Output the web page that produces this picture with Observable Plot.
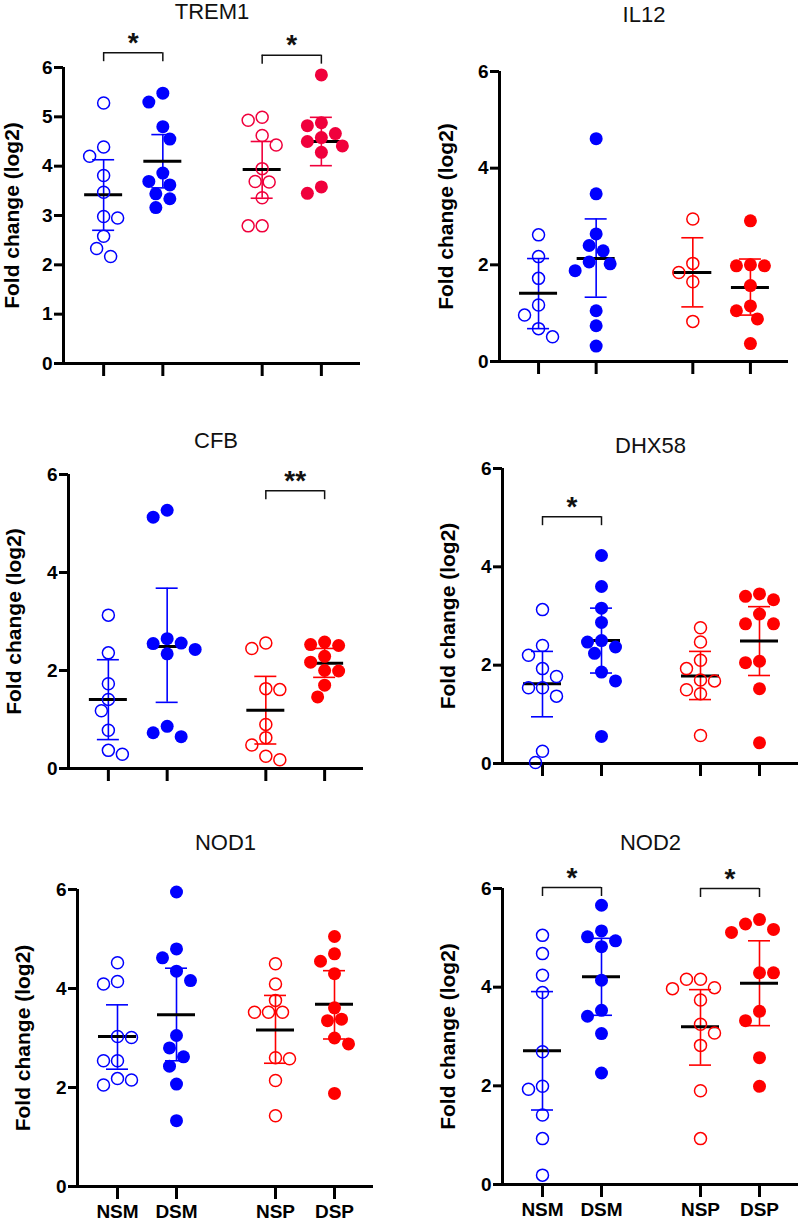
<!DOCTYPE html>
<html><head><meta charset="utf-8">
<script src="https://cdn.jsdelivr.net/npm/d3@7"></script>
<script src="https://cdn.jsdelivr.net/npm/@observablehq/plot@0.6"></script>
<style>
body{margin:0;background:#fff;}
#root{position:relative;width:800px;height:1221px;overflow:hidden;background:#fff;}
</style></head><body><div id="root"></div>
<script>
// ---------------- data ----------------
const groups = ["NSM", "DSM", "NSP", "DSP"];
const genes = ["TREM1", "IL12", "CFB", "DHX58", "NOD1", "NOD2"];
const yLabel = "Fold change (log2)";
const yTicksTREM1 = [0, 1, 2, 3, 4, 5, 6];
const yTicksDefault = [0, 2, 4, 6];

const TREM1_NSM = [5.28, 4.39, 4.20, 3.81, 3.47, 2.98, 2.95, 2.58, 2.33, 2.17];
const TREM1_DSM = [5.48, 5.30, 4.80, 4.55, 3.86, 3.69, 3.62, 3.44, 3.34, 3.16];
const TREM1_NSP = [4.99, 4.93, 4.62, 4.43, 3.95, 3.69, 3.68, 3.36, 2.79, 2.79];
const TREM1_DSP = [5.85, 4.88, 4.82, 4.66, 4.58, 4.50, 4.41, 4.28, 3.58, 3.45];
const TREM1_mean = [3.42, 4.10, 3.93, 4.50];
const TREM1_hi = [4.13, 4.64, 4.50, 4.99];
const TREM1_lo = [2.70, 3.56, 3.35, 4.01];

const IL12_NSM = [2.62, 2.17, 1.72, 1.17, 0.96, 0.68, 0.51];
const IL12_DSM = [4.61, 3.47, 2.64, 2.40, 2.29, 2.06, 2.02, 1.88, 1.05, 0.74, 0.32];
const IL12_NSP = [2.95, 2.03, 1.84, 1.65, 0.83];
const IL12_DSP = [2.91, 2.00, 1.98, 1.98, 1.57, 1.15, 1.05, 0.88, 0.37];
const IL12_mean = [1.41, 2.13, 1.84, 1.53];
const IL12_hi = [2.13, 2.95, 2.56, 2.12];
const IL12_lo = [0.68, 1.33, 1.13, 0.96];

const CFB_NSM = [3.13, 2.36, 1.73, 1.41, 1.18, 0.78, 0.37, 0.29];
const CFB_DSM = [5.27, 5.13, 2.65, 2.56, 2.55, 2.43, 2.34, 0.86, 0.73, 0.65];
const CFB_NSP = [2.56, 2.45, 1.63, 1.61, 0.90, 0.63, 0.48, 0.25, 0.18];
const CFB_DSP = [2.58, 2.53, 2.51, 2.29, 2.17, 2.00, 1.99, 1.70, 1.46];
const CFB_mean = [1.41, 2.49, 1.19, 2.15];
const CFB_hi = [2.22, 3.68, 1.88, 2.45];
const CFB_lo = [0.59, 1.35, 0.50, 1.86];

const DHX58_NSM = [3.13, 2.40, 2.20, 1.93, 1.77, 1.54, 1.54, 1.37, 0.25, 0.02];
const DHX58_DSM = [4.23, 3.60, 3.16, 2.87, 2.50, 2.47, 2.37, 2.24, 1.86, 1.68, 0.55];
const DHX58_NSP = [2.76, 2.47, 2.10, 1.93, 1.70, 1.68, 1.50, 1.42, 0.57];
const DHX58_DSP = [3.45, 3.40, 3.33, 3.04, 2.84, 2.84, 2.08, 2.05, 1.52, 0.42];
const DHX58_mean = [1.62, 2.50, 1.78, 2.49];
const DHX58_hi = [2.28, 3.16, 2.28, 3.19];
const DHX58_lo = [0.95, 1.84, 1.30, 1.79];

const NOD1_NSM = [4.52, 4.14, 4.09, 3.03, 3.01, 2.54, 2.54, 2.18, 2.15, 2.05];
const NOD1_DSM = [5.95, 4.80, 4.62, 4.35, 4.16, 3.05, 2.80, 2.62, 2.43, 2.07, 1.33];
const NOD1_NSP = [4.50, 4.09, 3.76, 3.52, 3.52, 3.52, 2.60, 2.58, 2.14, 1.43];
const NOD1_DSP = [5.05, 4.70, 4.55, 4.30, 3.61, 3.38, 3.35, 3.00, 2.88, 1.88];
const NOD1_mean = [3.03, 3.47, 3.16, 3.68];
const NOD1_hi = [3.67, 4.41, 3.86, 4.36];
const NOD1_lo = [2.37, 2.54, 2.49, 2.98];

const NOD2_NSM = [5.05, 4.68, 4.24, 3.89, 2.69, 1.99, 1.93, 1.41, 0.93, 0.19];
const NOD2_DSM = [5.66, 5.14, 5.02, 4.94, 4.82, 4.14, 3.53, 3.41, 3.06, 2.26];
const NOD2_NSP = [4.16, 4.16, 3.99, 3.97, 3.74, 3.25, 3.07, 2.82, 1.90, 0.93];
const NOD2_DSP = [5.37, 5.28, 5.17, 5.11, 4.29, 4.29, 3.51, 3.32, 2.57, 1.99];
const NOD2_mean = [2.71, 4.21, 3.20, 4.08];
const NOD2_hi = [3.91, 4.99, 3.95, 4.94];
const NOD2_lo = [1.51, 3.43, 2.42, 3.22];

// significance brackets
const bracketGene = ["TREM1", "TREM1", "CFB", "DHX58", "NOD2", "NOD2"];
const bracketFrom = ["NSM", "NSP", "NSP", "NSM", "NSM", "NSP"];
const bracketTo = ["DSM", "DSP", "DSP", "DSM", "DSM", "DSP"];
const bracketLevel = [6.30, 6.25, 5.67, 5.02, 6.02, 6.00];
const bracketLabel = ["*", "*", "**", "*", "*", "*"];

// ---------------- tables built from the arrays ----------------
const series = {
  TREM1: [TREM1_NSM, TREM1_DSM, TREM1_NSP, TREM1_DSP],
  IL12: [IL12_NSM, IL12_DSM, IL12_NSP, IL12_DSP],
  CFB: [CFB_NSM, CFB_DSM, CFB_NSP, CFB_DSP],
  DHX58: [DHX58_NSM, DHX58_DSM, DHX58_NSP, DHX58_DSP],
  NOD1: [NOD1_NSM, NOD1_DSM, NOD1_NSP, NOD1_DSP],
  NOD2: [NOD2_NSM, NOD2_DSM, NOD2_NSP, NOD2_DSP]
};
const stats = {
  TREM1: [TREM1_mean, TREM1_lo, TREM1_hi],
  IL12: [IL12_mean, IL12_lo, IL12_hi],
  CFB: [CFB_mean, CFB_lo, CFB_hi],
  DHX58: [DHX58_mean, DHX58_lo, DHX58_hi],
  NOD1: [NOD1_mean, NOD1_lo, NOD1_hi],
  NOD2: [NOD2_mean, NOD2_lo, NOD2_hi]
};

// ---------------- layout ----------------
const XSPAN = 296;                  // x layout units across the axis
const groupX = [40, 99, 198, 257];  // group centres in those units
const layout = [
  {gene: "TREM1", ax: 63,  top: 67,  w: 297, h: 296, ty: 11,  ldx: -51},
  {gene: "IL12",  ax: 499, top: 71,  w: 289, h: 290, ty: 14,  ldx: -53},
  {gene: "CFB",   ax: 68,  top: 474, w: 295, h: 294, ty: 440, ldx: -54},
  {gene: "DHX58", ax: 502, top: 468, w: 296, h: 295, ty: 445, ldx: -54},
  {gene: "NOD1",  ax: 77,  top: 889, w: 296, h: 297, ty: 842, ldx: -54, labels: true},
  {gene: "NOD2",  ax: 502, top: 888, w: 296, h: 296, ty: 842, ldx: -54, labels: true}
];
const BLUE = "#0000ff", RED = "#ff0000", RED_T = "#f0003c";
const FONT = "'Liberation Sans', Arial, Helvetica, sans-serif";
const ML = 66, MR = 4, MT = 70, MB = 40;

// beeswarm-style horizontal offsets (pixels) so dots don't overlap
function swarm(values, pxPerUnit, D, step) {
  const order = d3.range(values.length).sort((a, b) => d3.descending(values[a], values[b]));
  const placed = [], off = [];
  const cands = [0];
  for (let k = 1; k <= 6; k++) cands.push(-k * step, k * step);
  for (const i of order) {
    const y = values[i] * pxPerUnit;
    const ok = cands.filter(c => placed.every(p => Math.hypot(p.x - c, p.y - y) >= D));
    const best = d3.min(ok, c => Math.abs(c));
    const choice = ok.filter(c => Math.abs(c) === best);
    let c = choice[0];
    if (choice.length > 1) {
      const left = placed.filter(p => p.x < 0).length, right = placed.filter(p => p.x > 0).length;
      c = left <= right ? d3.min(choice) : d3.max(choice);
    }
    off[i] = c;
    placed.push({x: c, y});
  }
  return off;
}

const root = document.getElementById("root");
layout.forEach(L => {
  const vals = series[L.gene];
  const [mean, lo, hi] = stats[L.gene];
  const kx = XSPAN / L.w;   // x units per pixel
  const ky = 6 / L.h;       // y units per pixel
  const red = L.gene === "TREM1" ? RED_T : RED;
  const colorOf = gi => (gi < 2 ? BLUE : red);

  const pts = [];
  vals.forEach((arr, gi) => {
    const offs = swarm(arr, 1 / ky, 13.2, 7);
    arr.forEach((v, i) => pts.push({gi, v, x: groupX[gi] + offs[i] * kx, open: gi % 2 === 0}));
  });
  const sum = groups.map((g, gi) => ({gi, x: groupX[gi], mean: mean[gi], lo: lo[gi], hi: hi[gi]}));
  const caps = sum.flatMap(s => [{gi: s.gi, x: s.x, y: s.lo}, {gi: s.gi, x: s.x, y: s.hi}]);
  const br = bracketGene.map((g, i) => i).filter(i => bracketGene[i] === L.gene).map(i => ({
    x1: groupX[groups.indexOf(bracketFrom[i])],
    x2: groupX[groups.indexOf(bracketTo[i])],
    y: bracketLevel[i],
    label: bracketLabel[i]
  }));
  const legs = br.flatMap(b => [{x: b.x1, y1: b.y - 9 * ky, y2: b.y}, {x: b.x2, y1: b.y - 9 * ky, y2: b.y}]);

  const svg = Plot.plot({
    width: ML + L.w + MR,
    height: MT + L.h + MB,
    marginLeft: ML, marginRight: MR, marginTop: MT, marginBottom: MB,
    x: {domain: [0, XSPAN]},
    y: {domain: [0, 6]},
    color: {type: "identity"},
    style: {background: "transparent", color: "black", fontFamily: FONT, overflow: "visible"},
    marks: [
      Plot.axisY({ticks: L.gene === "TREM1" ? yTicksTREM1 : yTicksDefault, tickFormat: d3.format("d"),
        tickSize: 9, tickPadding: 2, strokeWidth: 3, fontSize: 19, fontWeight: "bold", label: null}),
      Plot.axisX({ticks: groupX, tickSize: 13, tickPadding: 5, strokeWidth: 3, fontSize: 19, fontWeight: "bold",
        label: null, tickFormat: L.labels ? (d => groups[groupX.indexOf(d)]) : (() => "")}),
      Plot.ruleX([0], {y1: 0, y2: 6, strokeWidth: 3}),
      Plot.ruleY([0], {x1: 0, x2: XSPAN, strokeWidth: 3}),
      // error bars
      Plot.ruleX(sum, {x: "x", y1: "lo", y2: "hi", stroke: d => colorOf(d.gi), strokeWidth: 1.6}),
      Plot.ruleY(caps, {y: "y", x1: d => d.x - 11 * kx, x2: d => d.x + 11 * kx, stroke: d => colorOf(d.gi), strokeWidth: 1.6}),
      // mean lines
      Plot.ruleY(sum, {y: "mean", x1: d => d.x - 19 * kx, x2: d => d.x + 19 * kx, stroke: "black", strokeWidth: 3}),
      // points
      Plot.dot(pts.filter(d => d.open), {x: "x", y: "v", r: 6, fill: "none", stroke: d => colorOf(d.gi), strokeWidth: 1.5}),
      Plot.dot(pts.filter(d => !d.open), {x: "x", y: "v", r: 6.5, fill: d => colorOf(d.gi), stroke: "none"}),
      // significance brackets
      Plot.ruleY(br, {y: "y", x1: "x1", x2: "x2", stroke: "#111", strokeWidth: 1.5}),
      Plot.ruleX(legs, {x: "x", y1: "y1", y2: "y2", stroke: "#111", strokeWidth: 1.5}),
      Plot.text(br, {x: d => (d.x1 + d.x2) / 2, y: "y", text: "label", lineAnchor: "bottom", dy: -1,
        fontSize: 28, fontWeight: "bold", fill: "#111"}),
      // title and y label
      Plot.text([L.gene], {frameAnchor: "top", dy: L.ty - L.top, lineAnchor: "middle", textAnchor: "middle",
        fontSize: 22, fill: "#111"}),
      Plot.text([yLabel], {frameAnchor: "left", rotate: -90, dx: L.ldx, lineAnchor: "middle", textAnchor: "middle",
        fontSize: 21, fontWeight: "bold", fill: "black"})
    ]
  });
  svg.style.position = "absolute";
  svg.style.left = (L.ax - ML) + "px";
  svg.style.top = (L.top - MT) + "px";
  root.appendChild(svg);
});
</script>
</body></html>
